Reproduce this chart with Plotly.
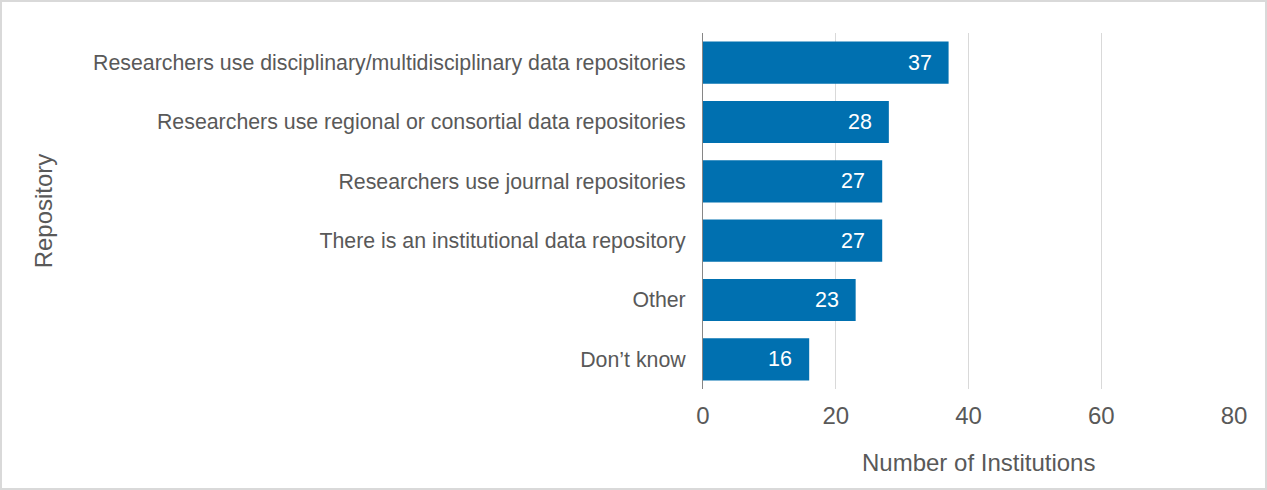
import plotly.graph_objects as go

categories = [
    "Researchers use disciplinary/multidisciplinary data repositories",
    "Researchers use regional or consortial data repositories",
    "Researchers use journal repositories",
    "There is an institutional data repository",
    "Other",
    "Don\u2019t know",
]
counts = [37, 28, 27, 27, 23, 16]
x_ticks = [0, 20, 40, 60, 80]
x_title = "Number of Institutions"
y_title = "Repository"

W, H = 1267, 490
L, R, T, B = 703, 33, 33, 101
font_family = "Liberation Sans, Arial, sans-serif"
grey_text = "#595959"

fig = go.Figure(
    go.Bar(
        y=categories,
        x=counts,
        orientation="h",
        marker=dict(color="#0070B0", line=dict(width=0)),
        hoverinfo="x+y",
    )
)

for cat, val in zip(categories, counts):
    fig.add_annotation(
        x=val, y=cat, xref="x", yref="y",
        text=str(val), showarrow=False,
        xanchor="right", yanchor="middle", xshift=-15,
        font=dict(color="white", size=21.5, family=font_family),
    )

# x-axis title (slightly right of centre, as in the original)
fig.add_annotation(
    x=0.5, y=0, xref="paper", yref="paper",
    text=x_title, showarrow=False,
    xanchor="center", yanchor="middle", xshift=10, yshift=-73,
    font=dict(color=grey_text, size=24, family=font_family),
)

fig.update_layout(
    width=W,
    height=H,
    margin=dict(l=L, r=R, t=T, b=B),
    paper_bgcolor="white",
    plot_bgcolor="white",
    bargap=0.29,
    showlegend=False,
    font=dict(family=font_family, color=grey_text),
    xaxis=dict(
        range=[0, 80],
        tickvals=x_ticks,
        showgrid=True,
        gridcolor="#d9d9d9",
        gridwidth=1,
        zeroline=False,
        showline=False,
        ticks="",
        ticklabelstandoff=10,
        tickfont=dict(size=24, color=grey_text),
    ),
    yaxis=dict(
        autorange="reversed",
        showgrid=False,
        zeroline=False,
        showline=True,
        linecolor="#868686",
        linewidth=1,
        ticks="",
        ticklabelstandoff=12,
        tickfont=dict(size=21.33, color=grey_text),
        title=dict(text=y_title, font=dict(size=24, color=grey_text), standoff=33),
    ),
)

# figure border
fig.add_shape(
    type="rect",
    xref="paper", yref="paper",
    x0=-(L - 1) / (W - L - R), x1=1 + (R - 1) / (W - L - R),
    y0=-(B - 1) / (H - T - B), y1=1 + (T - 1) / (H - T - B),
    line=dict(color="#d9d9d9", width=2),
    fillcolor="rgba(0,0,0,0)",
    layer="below",
)

fig.write_html(
    "out.html",
    config={"displayModeBar": False},
    post_script="document.body.style.margin='0';document.body.style.padding='0';",
)
